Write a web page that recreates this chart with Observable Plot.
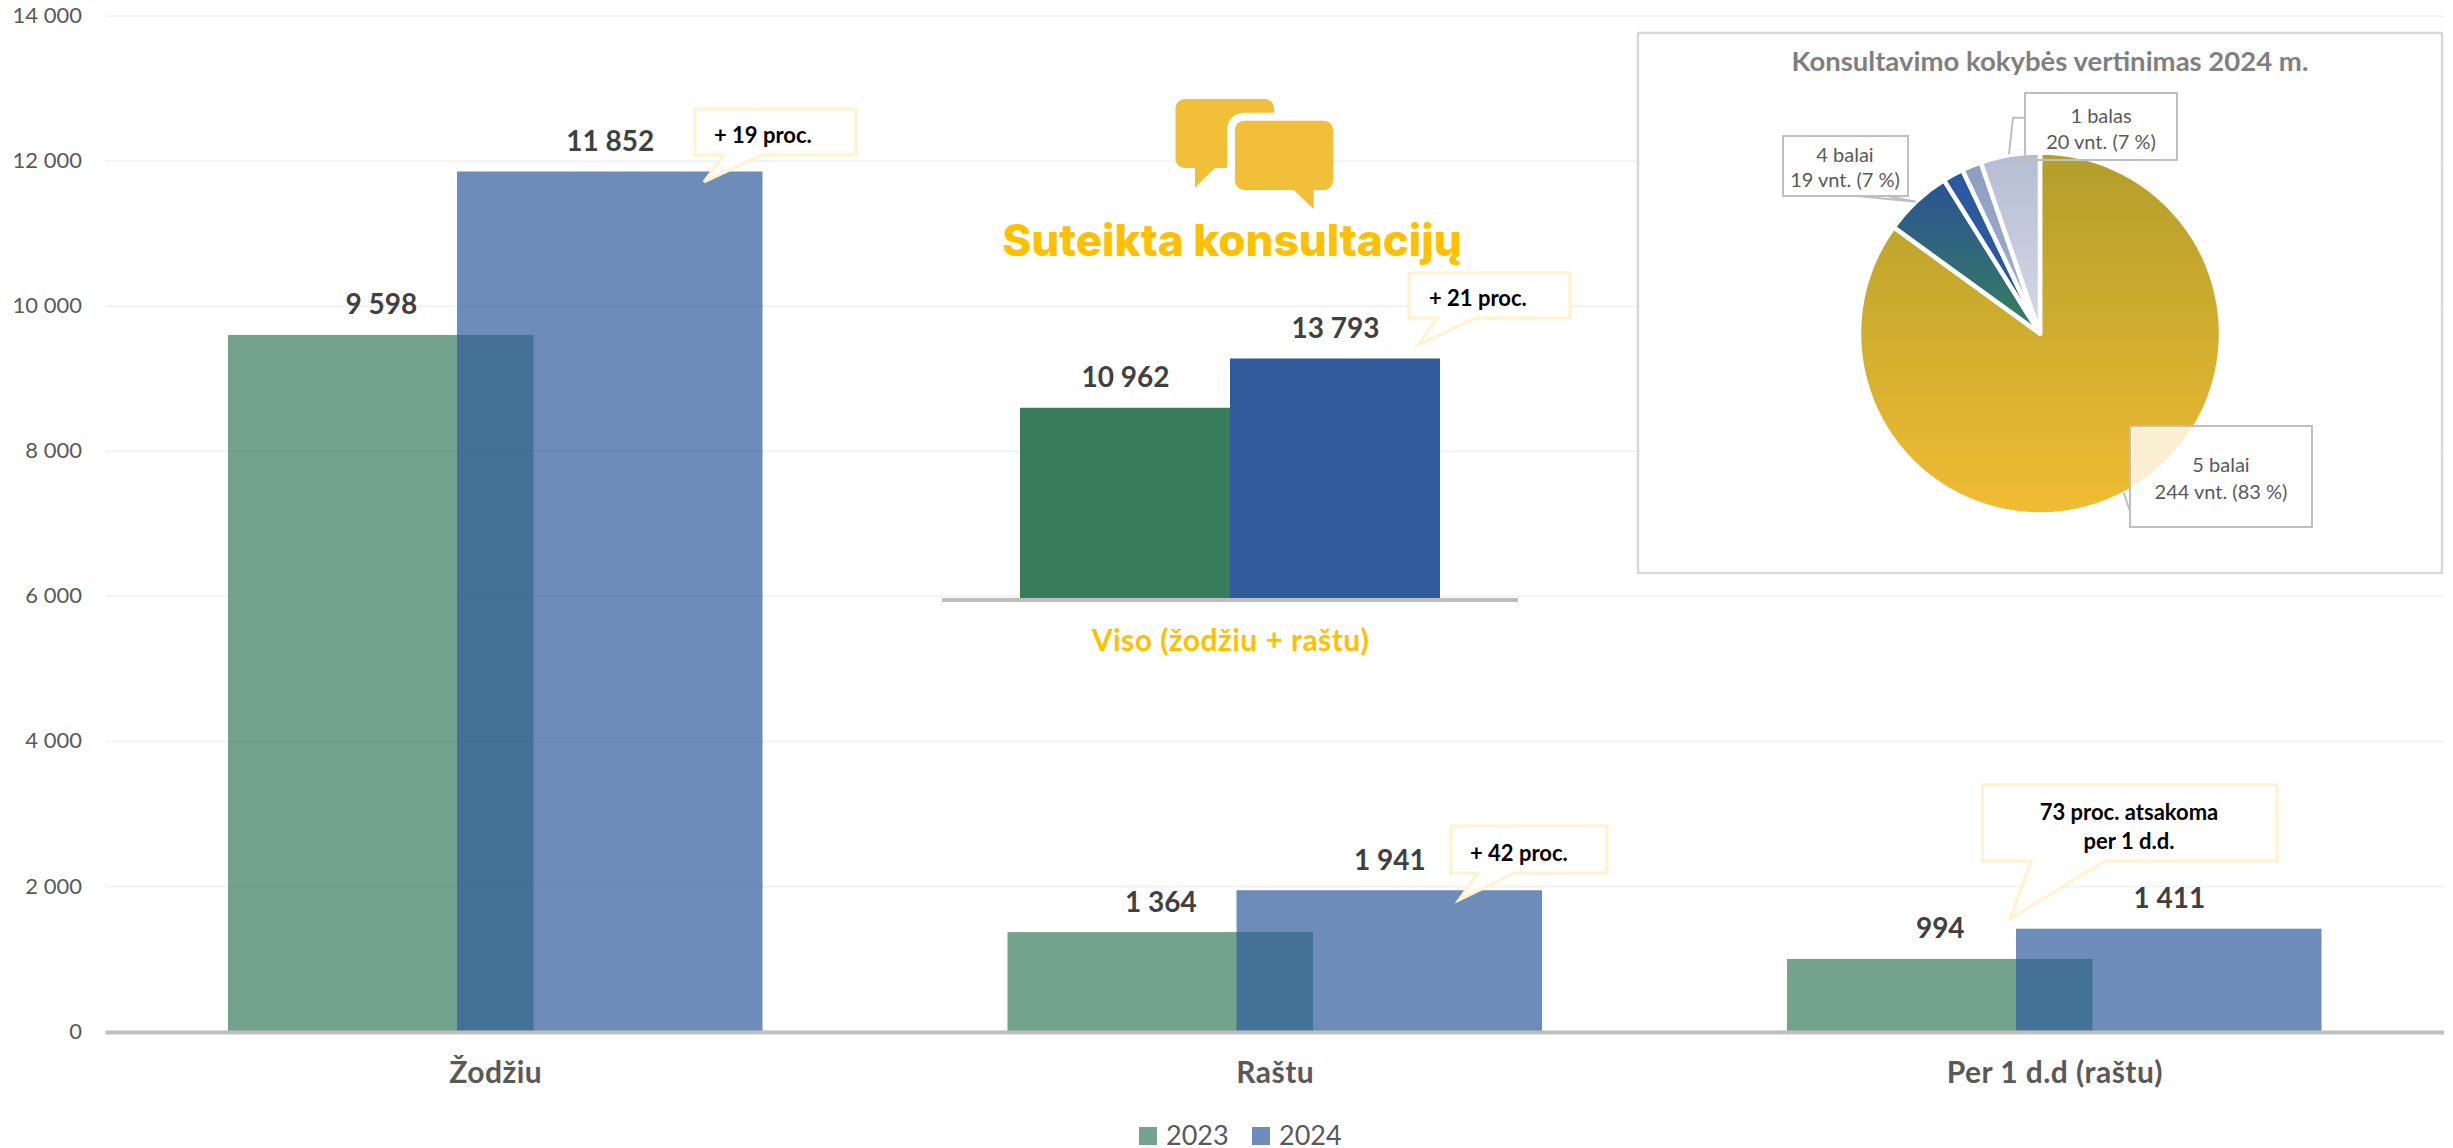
<!DOCTYPE html>
<html lang="lt">
<head>
<meta charset="utf-8">
<script src="https://cdn.jsdelivr.net/npm/d3@7"></script>
<script src="https://cdn.jsdelivr.net/npm/@observablehq/plot@0.6"></script>
<style>
html,body{margin:0;padding:0;background:#fff;overflow:hidden;font-family:Lato,sans-serif}
#page{position:relative;width:2453px;height:1148px}
#page svg{position:absolute;left:0;top:0;max-width:none;height:auto}
#page g[aria-label="x-axis tick label"]{letter-spacing:.45px}
#legend{position:absolute;left:0;top:1118px;width:2453px;height:30px}
#legend span{position:absolute;font-size:27px;color:#595959;line-height:30px;top:2px}
#legend i{position:absolute;width:18px;height:18px;top:9px}
</style>
</head>
<body>
<div id="page"></div>
<script>
const years = ["2023", "2024"];
const categories = ["Žodžiu", "Raštu", "Per 1 d.d (raštu)"];
const values2023 = [9598, 1364, 994];
const values2024 = [11852, 1941, 1411];
const totalLabel = ["Viso (žodžiu + raštu)"];
const total2023 = [10962];
const total2024 = [13793];
const yTicks = [0, 2000, 4000, 6000, 8000, 10000, 12000, 14000];
const pieNames = ["5 balai", "4 balai", "3 balai", "2 balai", "1 balas"];
const pieShares = [85, 6.1, 1.85, 1.75, 5.3];

const W = 2453, H = 1118;
const FONT = "Lato, sans-serif";
const spaced = d3.formatLocale({thousands: " ", grouping: [3], decimal: ",", currency: ["", ""]}).format(",d");
const green = "#377C5B", blue = "#2F5B9D";
const rows = (names, vals) => names.map((c, i) => ({c, v: vals[i]}));
const NS = "http://www.w3.org/2000/svg";

function el(parent, tag, attrs, txt) {
  const e = document.createElementNS(NS, tag);
  for (const k in attrs) e.setAttribute(k, attrs[k]);
  if (txt != null) e.textContent = txt;
  parent.appendChild(e);
  return e;
}
function label(g, x, y, s, o = {}) {
  return el(g, "text", {x, y, "dominant-baseline": "central", "text-anchor": o.anchor || "middle",
    "font-size": o.size || 22, "font-weight": o.weight || "bold", fill: o.fill || "#000", "font-family": FONT}, s);
}
function callout(g, x0, y0, x1, y1, t0, tip, t1) {
  const d = `M${x0},${y0}H${x1}V${y1}H${t1}L${tip[0]},${tip[1]}L${t0},${y1}H${x0}Z`;
  el(g, "path", {d, fill: "#fff", stroke: "#FFF2CC", "stroke-width": 3});
}

/* main chart */
const main = Plot.plot({
  width: W, height: H,
  marginLeft: 105.5, marginRight: 9, marginTop: 15.7, marginBottom: 87,
  style: {fontFamily: FONT, background: "transparent"},
  x: {domain: categories, padding: 0, round: false, label: null},
  y: {domain: [0, 14000], label: null},
  marks: [
    Plot.gridY(yTicks, {stroke: "#F2F2F2", strokeWidth: 2, strokeOpacity: 1}),
    Plot.axisY(yTicks, {tickSize: 0, tickPadding: 24, tickFormat: spaced, fontSize: 22, fill: "#595959", label: null}),
    Plot.axisX({tickSize: 0, tickPadding: 30, fontSize: 30, fontWeight: "bold", fill: "#595959", label: null}),
    Plot.barY(rows(categories, values2023), {x: "c", y: "v", fill: green, fillOpacity: 0.7, insetLeft: 122.5, insetRight: 351.5}),
    Plot.barY(rows(categories, values2024), {x: "c", y: "v", fill: blue, fillOpacity: 0.7, insetLeft: 351.5, insetRight: 122.5}),
    Plot.ruleY([0], {stroke: "#BFBFBF", strokeWidth: 4, dy: 1}),
    Plot.text(rows(categories, values2023), {x: "c", y: "v", text: d => spaced(d.v), dx: -114.5, dy: -30, fontSize: 28, fontWeight: "bold", fill: "#404040"}),
    Plot.text(rows(categories, values2024), {x: "c", y: "v", text: d => spaced(d.v), dx: 114.5, dy: -30, fontSize: 28, fontWeight: "bold", fill: "#404040"}),
    () => {
      const g2 = document.createElementNS(NS, "g");
      callout(g2, 695, 109, 856, 155, 724, [704, 182], 762);
      label(g2, 714, 134, "+ 19 proc.", {anchor: "start"});
      callout(g2, 1451, 826, 1607, 873, 1478, [1459, 900], 1515);
      label(g2, 1470, 852, "+ 42 proc.", {anchor: "start"});
      callout(g2, 1982.5, 785, 2277, 861, 2031.5, [2010, 919], 2105);
      label(g2, 2129, 811, "73 proc. atsakoma");
      label(g2, 2129, 840, "per 1 d.d.");
      return g2;
    }
  ]
});

/* inset total chart, icon and heading */
const inset = Plot.plot({
  width: W, height: H,
  marginLeft: 942, marginRight: 935, marginTop: 354.9, marginBottom: 519.5,
  style: {fontFamily: FONT, background: "transparent"},
  x: {domain: totalLabel, padding: 0, round: false, label: null},
  y: {domain: [0, 14000], label: null, axis: null},
  marks: [
    Plot.axisX({tickSize: 0, tickPadding: 31, fontSize: 30, fontWeight: "bold", fill: "#FFC000", label: null}),
    Plot.barY(rows(totalLabel, total2023), {x: "c", y: "v", fill: green, insetLeft: 78, insetRight: 288}),
    Plot.barY(rows(totalLabel, total2024), {x: "c", y: "v", fill: blue, insetLeft: 288, insetRight: 78}),
    Plot.ruleY([0], {stroke: "#BFBFBF", strokeWidth: 4, dy: 1}),
    Plot.text(rows(totalLabel, total2023), {x: "c", y: "v", text: d => spaced(d.v), dx: -105, dy: -30, fontSize: 28, fontWeight: "bold", fill: "#404040"}),
    Plot.text(rows(totalLabel, total2024), {x: "c", y: "v", text: d => spaced(d.v), dx: 105, dy: -30, fontSize: 28, fontWeight: "bold", fill: "#404040"}),
    () => {
      const g = document.createElementNS(NS, "g");
      const gold = "#F2BF38";
      const back = "M1184.5,99H1265a9,9 0 0 1 9,9V159a9,9 0 0 1 -9,9H1215L1195,187.7V168H1184.5a9,9 0 0 1 -9,-9V108a9,9 0 0 1 9,-9Z";
      const front = "M1244,120.7H1324a9,9 0 0 1 9,9V181a9,9 0 0 1 -9,9H1313.7V209.3L1293.7,190H1244a9,9 0 0 1 -9,-9V129.7a9,9 0 0 1 9,-9Z";
      const defs = el(g, "defs", {});
      const cp = el(defs, "clipPath", {id: "backClip"});
      el(cp, "path", {d: back});
      el(g, "path", {fill: gold, d: back});
      el(g, "path", {fill: "#fff", stroke: "#fff", "stroke-width": 16, "clip-path": "url(#backClip)", d: front});
      el(g, "path", {fill: gold, d: front});
      el(g, "text", {x: 1232, y: 256, "text-anchor": "middle",
        "font-size": 44, "font-weight": 800, fill: "#FFC000", "font-family": "Inter, sans-serif"}, "Suteikta konsultacijų");
      callout(g, 1409, 273, 1570, 318, 1437, [1418, 345], 1476);
      label(g, 1429, 297, "+ 21 proc.", {anchor: "start"});
      return g;
    }
  ]
});

/* pie panel */
const grads = [["#B29E2B", "#F0BC33"], ["#2B5294", "#36805E"], ["#2C58A0", "#2C5A9A"], ["#8D9DC0", "#A8B4D0"], ["#B6BDD3", "#D4D9E6"]];
const pie = Plot.plot({
  width: W, height: H, margin: 0,
  style: {fontFamily: FONT, background: "transparent"},
  x: {domain: [0, W], axis: null}, y: {domain: [0, H], axis: null},
  marks: [
    () => {
      const g = document.createElementNS(NS, "g");
      el(g, "rect", {x: 1638, y: 33, width: 804, height: 540, fill: "#fff", stroke: "#D9D9D9", "stroke-width": 2.5});
      label(g, 2050, 60, "Konsultavimo kokybės vertinimas 2024 m.", {size: 27.5, fill: "#7F7F7F"});
      const defs = el(g, "defs", {});
      grads.forEach((c, i) => {
        const lg = el(defs, "linearGradient", {id: "pg" + i, x1: 0, y1: 0, x2: 0, y2: 1});
        el(lg, "stop", {offset: 0, "stop-color": c[0]});
        el(lg, "stop", {offset: 1, "stop-color": c[1]});
      });
      const arcs = d3.pie().sort(null)(pieShares);
      const arc = d3.arc().innerRadius(0).outerRadius(181);
      const p = el(g, "g", {transform: "translate(2040,333.5)"});
      arcs.forEach((a, i) => {
        const s = el(p, "path", {d: arc(a), fill: `url(#pg${i})`, stroke: "#fff", "stroke-width": 4.5, "stroke-linejoin": "round"});
        el(s, "title", {}, pieNames[i]);
      });
      const lead = "#BFBFBF";
      el(g, "path", {d: "M2025,117.7H2013L2009,154", fill: "none", stroke: lead, "stroke-width": 2});
      el(g, "path", {d: "M1857,196L1916,201.7L1887,196", fill: "none", stroke: lead, "stroke-width": 2});
      el(g, "path", {d: "M2130,511L2123.7,492.7", fill: "none", stroke: lead, "stroke-width": 2});
      const box = (x, y, w, h, op) => el(g, "rect", {x, y, width: w, height: h, fill: "#fff", "fill-opacity": op, stroke: lead, "stroke-width": 2});
      const t = {weight: "normal", size: 20, fill: "#595959"};
      el(g, "rect", {x: 2025, y: 93, width: 152, height: 59, fill: "#fff", "fill-opacity": 0.9});
      box(2025, 93, 152, 67, 0); label(g, 2101, 114.5, "1 balas", t); label(g, 2101, 140.7, "20 vnt. (7 %)", t);
      box(1783, 136, 125, 60, 1); label(g, 1845, 154, "4 balai", t); label(g, 1845, 179, "19 vnt. (7 %)", t);
      box(2130, 426, 182, 101, 0.78); label(g, 2221, 464, "5 balai", t); label(g, 2221, 491, "244 vnt. (83 %)", t);
      return g;
    }
  ]
});

const page = document.getElementById("page");
page.append(main, inset, pie);

/* legend */
const lg = document.createElement("div");
lg.id = "legend";
lg.innerHTML = `<i style="left:1139px;background:${green};opacity:.7"></i><span style="left:1166px">${years[0]}</span>` +
               `<i style="left:1252px;background:${blue};opacity:.7"></i><span style="left:1279px">${years[1]}</span>`;
page.append(lg);
</script>
</body>
</html>
